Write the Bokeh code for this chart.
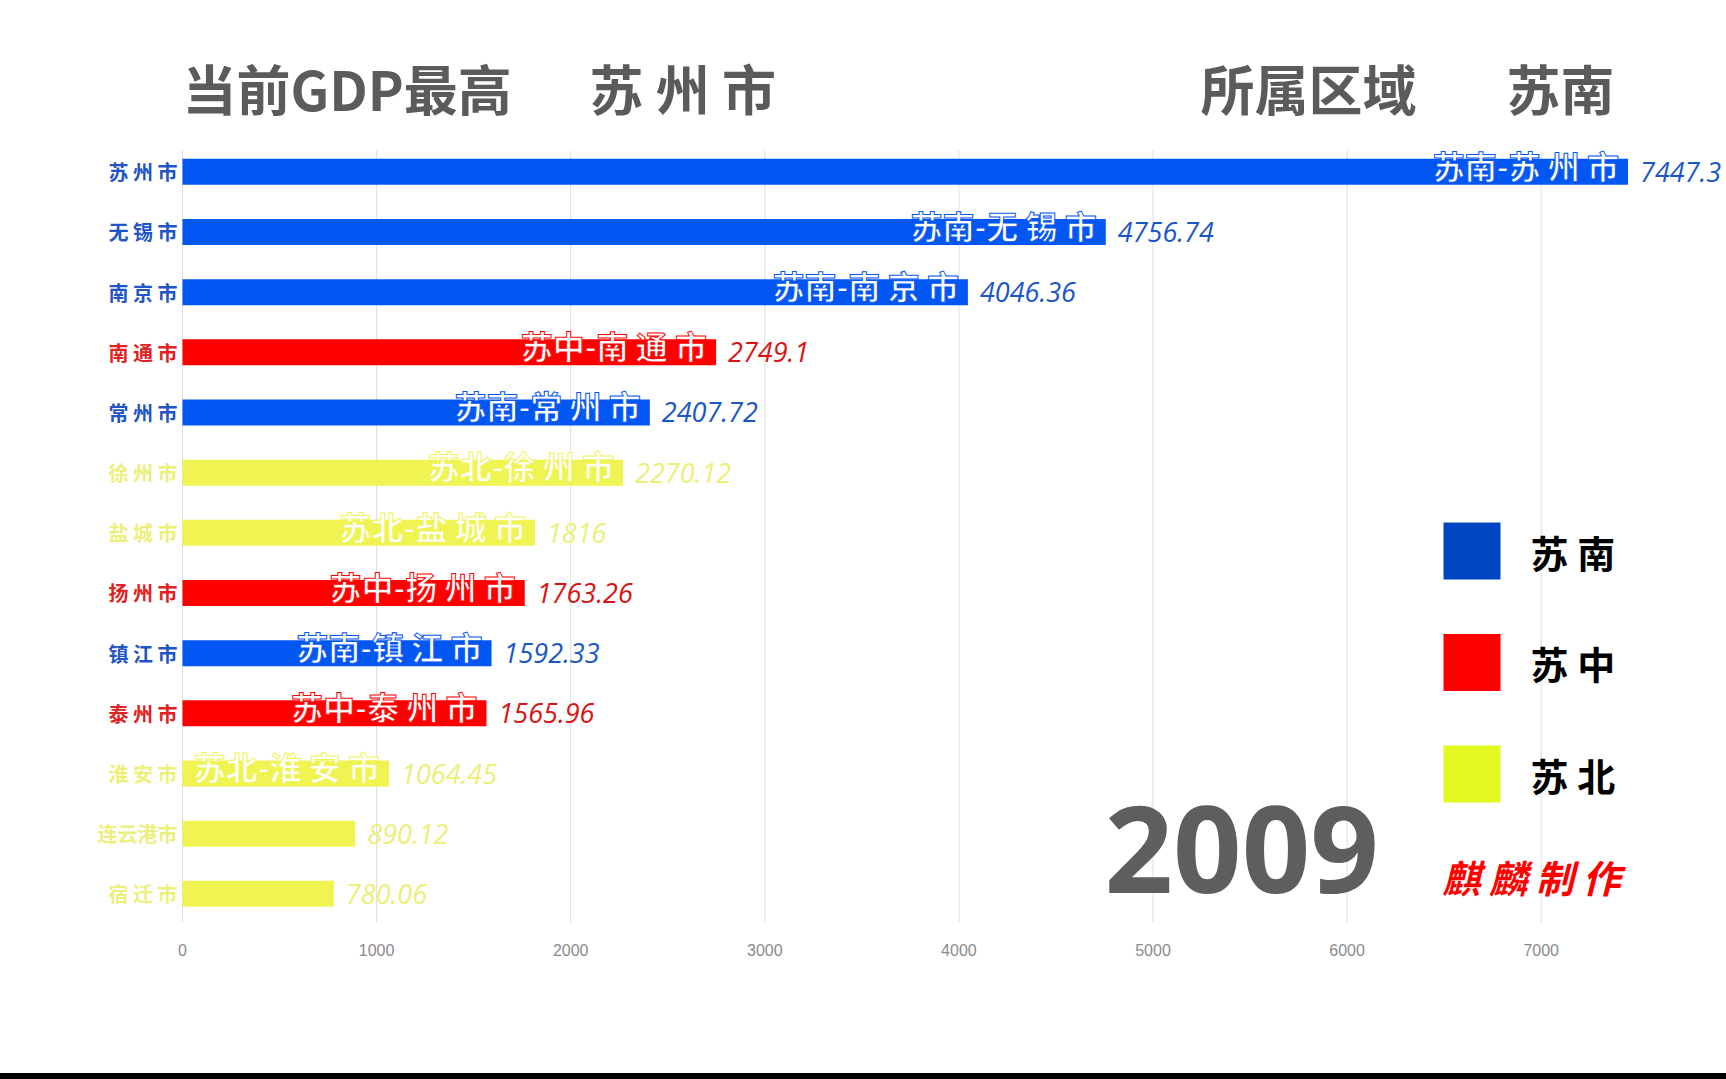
from bokeh.plotting import figure
from bokeh.layouts import column
from bokeh.models import ColumnDataSource, Range1d, FixedTicker, Label, Div
from bokeh.core.properties import value
from bokeh.embed import file_html
from bokeh.resources import INLINE

# ---------------- data ----------------
cities = ["苏州市", "无锡市", "南京市", "南通市", "常州市", "徐州市", "盐城市",
          "扬州市", "镇江市", "泰州市", "淮安市", "连云港市", "宿迁市"]
regions = ["苏南", "苏南", "苏南", "苏中", "苏南", "苏北", "苏北",
           "苏中", "苏南", "苏中", "苏北", "苏北", "苏北"]
gdp = [7447.3, 4756.74, 4046.36, 2749.1, 2407.72, 2270.12, 1816,
       1763.26, 1592.33, 1565.96, 1064.45, 890.12, 780.06]
year = "2009"
x_ticks = [0, 1000, 2000, 3000, 4000, 5000, 6000, 7000]
legend_regions = ["苏南", "苏中", "苏北"]
credit = "麒麟制作"

# ---------------- styles ----------------
bar_colors = {"苏南": "#0256f2", "苏中": "#ff0000", "苏北": "#f0f453"}
name_colors = {"苏南": "#1f55c4", "苏中": "#e02222", "苏北": "#ecef7a"}
val_colors = {"苏南": "#1a57c6", "苏中": "#d81414", "苏北": "#ecef78"}
legend_colors = {"苏南": "#0046c2", "苏中": "#ff0000", "苏北": "#e4f822"}
CJK = "Noto Sans CJK SC"
GRAY = "#5b5b5b"

W, H = 1726, 1073
BAND_H = 6                  # dark strip along the bottom of the picture
FRAME_BOTTOM = 922          # page y of the bottom of the plotting frame
GRID_TOP = 150              # page y where grid lines begin
X0_PAGE, PX_PER_UNIT = 182.0, 0.1941
Y0_PAGE, ROW = 171.3, 60.17


def dx(page_x):
    return (page_x - X0_PAGE) / PX_PER_UNIT


def dy(page_y):
    return (page_y - Y0_PAGE) / ROW


def spaced(name):
    return " ".join(name) if len(name) <= 3 else name


idx = list(range(len(cities)))
src = ColumnDataSource(dict(
    y=idx,
    y_lab=[i - 0.12 for i in idx],
    gdp=gdp,
    zero=[0] * len(idx),
    name=[spaced(c) for c in cities],
    inbar=[(r + "-" + spaced(c)) if v >= 1000 else "" for r, c, v in zip(regions, cities, gdp)],
    val=[f"{v:g}" for v in gdp],
    bar_color=[bar_colors[r] for r in regions],
    name_color=[name_colors[r] for r in regions],
    val_color=[val_colors[r] for r in regions],
))

p = figure(width=W, height=H, output_backend="svg", toolbar_location=None,
           x_range=Range1d(dx(0), dx(W)), y_range=Range1d(dy(FRAME_BOTTOM), dy(0)),
           min_border_left=0, min_border_right=0, min_border_top=0,
           min_border_bottom=H - FRAME_BOTTOM)
p.outline_line_color = None
p.background_fill_color = "white"
p.border_fill_color = "white"

p.yaxis.visible = False
p.grid.visible = False
p.xaxis.ticker = FixedTicker(ticks=x_ticks)
p.xaxis.axis_line_color = None
p.xaxis.major_tick_line_color = None
p.xaxis.minor_tick_line_color = None
p.xaxis.major_label_standoff = 15
p.xaxis.major_label_text_font = "Liberation Sans"
p.xaxis.major_label_text_font_size = "16px"
p.xaxis.major_label_text_color = "#8a8a8a"

# vertical grid lines at the axis ticks
grid_src = ColumnDataSource(dict(x=x_ticks,
                                 y0=[dy(GRID_TOP)] * len(x_ticks),
                                 y1=[dy(FRAME_BOTTOM)] * len(x_ticks)))
p.segment(x0="x", y0="y0", x1="x", y1="y1", line_color="#dedede", line_width=1,
          source=grid_src)

p.hbar(y="y", left=0, right="gdp", height=0.432, fill_color="bar_color",
       line_color=None, source=src)

p.text(x="gdp", y="y_lab", text="inbar", x_offset=-9, text_align="right",
       text_baseline="middle", text_color="white", text_font=value(CJK),
       text_font_style="bold", text_font_size="32px", text_outline_color="bar_color",
       source=src)

p.text(x="gdp", y="y", text="val", x_offset=12, text_align="left",
       text_baseline="middle", text_color="val_color", text_font=value("Open Sans"),
       text_font_style="italic", text_font_size="27px", source=src)

p.text(x="zero", y="y", text="name", x_offset=-5, text_align="right",
       text_baseline="middle", text_color="name_color", text_font=value(CJK),
       text_font_style="bold", text_font_size="20px", source=src)

# legend
leg_y = [dy(550.5) + k * (dy(662) - dy(550.5)) for k in range(len(legend_regions))]
leg_src = ColumnDataSource(dict(
    x=[dx(1471.5)] * len(legend_regions),
    tx=[dx(1530)] * len(legend_regions),
    y=leg_y,
    label=[" ".join(r) for r in legend_regions],
    color=[legend_colors[r] for r in legend_regions],
))
p.rect(x="x", y="y", width=57, height=57, width_units="screen", height_units="screen",
       fill_color="color", line_color=None, source=leg_src)
p.text(x="tx", y="y", text="label", text_align="left", text_baseline="middle",
       text_color="black", text_font=value(CJK), text_font_style="bold",
       text_font_size="38px", source=leg_src)

# titles
top_i = max(idx, key=lambda i: gdp[i])
title_items = [
    ("当前GDP最高", 182),
    (spaced(cities[top_i]), 589),
    ("所属区域", 1200),
    (regions[top_i], 1506),
]
for txt, px in title_items:
    p.add_layout(Label(x=dx(px), y=dy(87), text=txt, text_align="left",
                       text_baseline="middle", text_color=GRAY, text_font=CJK,
                       text_font_style="bold", text_font_size="54px"))

p.add_layout(Label(x=dx(1104), y=dy(849), text=year, text_align="left",
                   text_baseline="middle", text_color="#5e5e5e", text_font="Open Sans",
                   text_font_style="bold", text_font_size="120px"))
p.add_layout(Label(x=dx(1442), y=dy(876), text=" ".join(credit), text_align="left",
                   text_baseline="middle", text_color="#ff0000", text_font=CJK,
                   text_font_style="bold italic", text_font_size="38px"))

# dark strip under the chart
band = Div(text="", width=W, height=BAND_H,
           styles={"background-color": "black", "margin": "0", "padding": "0"})

layout = column(p, band, spacing=0)
open("out.html", "w").write(file_html(layout, INLINE))
